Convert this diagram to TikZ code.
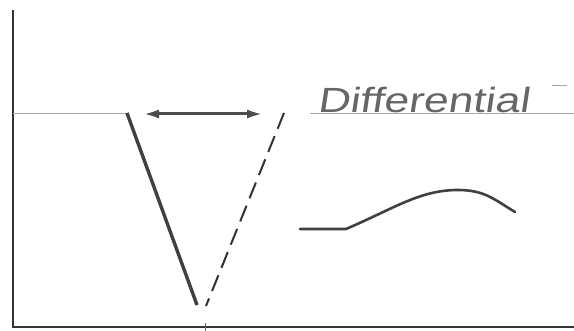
\documentclass[tikz,border=0pt]{standalone}
\usepackage{fontspec}
\newfontfamily\lett[FakeSlant=0.12]{Liberation Sans}
\usetikzlibrary{arrows.meta}
\begin{document}
\begin{tikzpicture}[x=1pt,y=-1pt,
  axis/.style={draw=black!80,line width=2pt},
  guide/.style={draw=black!35,line width=0.7pt},
  heavy/.style={draw=black!75,line width=3.4pt},
  dashline/.style={draw=black!80,line width=2pt,dash pattern=on 17pt off 8pt},
  curveline/.style={draw=black!75,line width=2.6pt,line cap=round},
  dimarrow/.style={draw=black!70,line width=3pt,
     {Latex[open,length=16pt,width=9pt]}-{Latex[length=16pt,width=9pt]}},
  label/.style={anchor=base west,inner sep=0pt,text=black!60,font=\lett\fontsize{35}{40}\selectfont,xscale=1.27}]
\useasboundingbox[fill=white] (0,0) rectangle (574,331);
% axes
\coordinate (top) at (13,10);
\coordinate (orig) at (13,327);
\coordinate (xend) at (574,327);
\draw[axis] (top) -- (orig) -- (xend);
% guide line
\coordinate (g0) at (13,113);
\coordinate (g1) at (127,113);
\coordinate (g2) at (310,113);
\coordinate (g3) at (574,113);
\draw[guide] (g0) -- (g1);
\draw[guide] (g2) -- (g3);
\coordinate (m0) at (552,85);
\coordinate (m1) at (567,85);
\draw[guide] (m0) -- (m1);
% V lines
\coordinate (s0) at (127,113);
\coordinate (s1) at (197,305);
\draw[heavy] (s0) -- (s1);
\coordinate (d0) at (284,113);
\coordinate (d1) at (206,306);
\draw[dashline] (d0) -- (d1);
\coordinate (tk0) at (205,323);
\coordinate (tk1) at (205,331);
\draw[draw=black!60,line width=1pt] (tk0) -- (tk1);
% arrow
\coordinate (a0) at (143,114);
\coordinate (a1) at (263,114);
\draw[dimarrow] (a0) -- (a1);
% label
\node[label] (lab) at (317,113) {Differential};
% curve
\coordinate (c0) at (300,229);
\coordinate (c1) at (346,229);
\coordinate (c2) at (458,190);
\coordinate (c4) at (515,212);
\draw[curveline] (c0) -- (c1) .. controls (395,208) and (420,190) .. (c2) .. controls (485,190) and (495,200) .. (c4);
\end{tikzpicture}
\end{document}
